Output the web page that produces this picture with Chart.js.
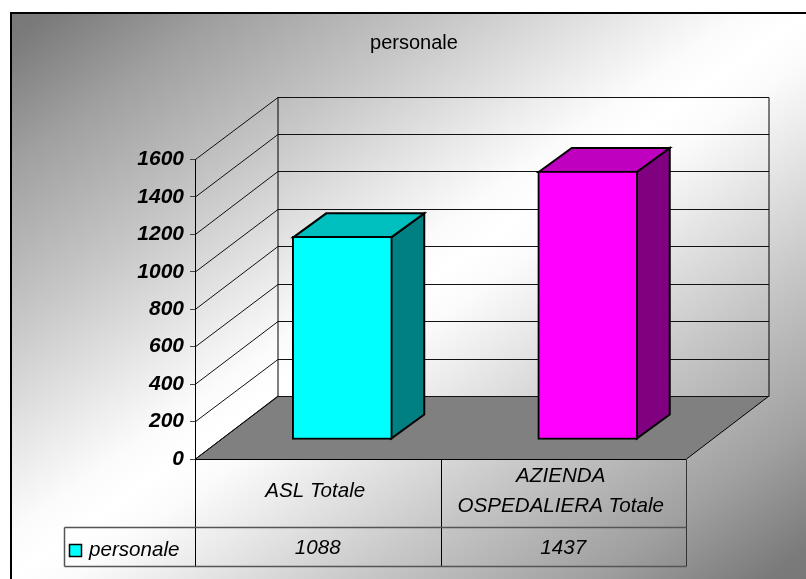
<!DOCTYPE html>
<html>
<head>
<meta charset="utf-8">
<style>
html,body{margin:0;padding:0;background:#fff;overflow:hidden;width:806px;height:579px}
canvas{display:block;position:absolute;left:0;top:0}
</style>
<script src="https://cdn.jsdelivr.net/npm/chart.js@4"></script>
</head>
<body>
<canvas id="c" width="828" height="579"></canvas>
<script>
const chartTitle = 'personale';
const seriesName = 'personale';
const categories = [['ASL Totale'], ['AZIENDA', 'OSPEDALIERA Totale']];
const values = [1088, 1437];
const frontColors = ['#00FFFF', '#FF00FF'];
const sideColors = ['#008080', '#800080'];
const topColors = ['#00BFBF', '#BF00BF'];
const FONT = '"Liberation Sans", Arial, sans-serif';

// Oblique projection of the 3D box
const WALL_DX = 82.5, WALL_DY = 63;
const BAR_SHIFT_X = 24.5, BAR_SHIFT_Y = 19;
const BAR_DX = 33, BAR_DY = 24;

const snap = v => Math.round(v) + 0.5;
function line(ctx, pts, color, w) {
  ctx.beginPath();
  pts.forEach((p, i) => i ? ctx.lineTo(p[0], p[1]) : ctx.moveTo(p[0], p[1]));
  ctx.strokeStyle = color; ctx.lineWidth = w; ctx.stroke();
}
function poly(ctx, pts, fill, stroke, w) {
  ctx.beginPath();
  pts.forEach((p, i) => i ? ctx.lineTo(p[0], p[1]) : ctx.moveTo(p[0], p[1]));
  ctx.closePath();
  ctx.fillStyle = fill; ctx.fill();
  if (stroke) { ctx.strokeStyle = stroke; ctx.lineWidth = w; ctx.lineJoin = 'miter'; ctx.stroke(); }
}

const gradStops = [
  [0, '#787878'], [0.025, '#7A7A7A'], [0.135, '#A0A0A0'], [0.275, '#C6C6C6'],
  [0.405, '#ECECEC'], [0.46, '#FBFBFB'], [0.5, '#FFFFFF'], [0.54, '#FBFBFB'],
  [0.595, '#ECECEC'], [0.725, '#C6C6C6'], [0.865, '#A0A0A0'], [0.975, '#7A7A7A'], [1, '#787878']
];

const frame3d = {
  id: 'frame3d',
  beforeDraw(chart) {
    const ctx = chart.ctx;
    ctx.save();
    ctx.fillStyle = '#fff';
    ctx.fillRect(0, 0, chart.width, chart.height);
    const g = ctx.createLinearGradient(141, -80, 675, 672);
    gradStops.forEach(s => g.addColorStop(s[0], s[1]));
    ctx.fillStyle = g;
    ctx.fillRect(10, 13, chart.width - 10, chart.height - 13);
    ctx.fillStyle = '#000';
    ctx.fillRect(10, 12, chart.width - 10, 2);
    ctx.fillRect(10, 12, 2, chart.height - 12);
    ctx.restore();
  },
  beforeDatasetsDraw(chart) {
    const ctx = chart.ctx, y = chart.scales.y, a = chart.chartArea;
    const L = a.left + 0.5, R = a.right + 0.5, B = y.getPixelForValue(0);
    ctx.save();
    // floor
    poly(ctx, [[L, B], [L + WALL_DX, B - WALL_DY], [R + WALL_DX, B - WALL_DY], [R, B]], '#808080', null);
    line(ctx, [[L, B], [L + WALL_DX, B - WALL_DY]], '#000', 1);
    line(ctx, [[R, B], [R + WALL_DX, B - WALL_DY]], '#000', 1);
    // gridlines across side wall and back wall
    y.ticks.forEach(t => {
      const py = y.getPixelForValue(t.value);
      const by = snap(py - WALL_DY);
      line(ctx, [[L, py], [L + WALL_DX, by], [R + WALL_DX, by]], '#111', 1);
    });
    // wall verticals
    const topBack = snap(y.getPixelForValue(y.max) - WALL_DY), botBack = snap(B - WALL_DY);
    line(ctx, [[L + WALL_DX, topBack], [L + WALL_DX, botBack]], '#000', 1);
    line(ctx, [[R + WALL_DX, topBack], [R + WALL_DX, botBack]], '#000', 1);
    ctx.restore();
    // bars: native rectangles are shifted onto the middle of the floor
    ctx.save();
    ctx.translate(BAR_SHIFT_X, -BAR_SHIFT_Y);
    chart.getDatasetMeta(0).data.forEach((bar, i) => {
      const x0 = bar.x - bar.width / 2 + 1, x1 = bar.x + bar.width / 2 - 1;
      const yt = bar.y + 1, yb = bar.base - 1;
      poly(ctx, [[x1, yt], [x1 + BAR_DX, yt - BAR_DY], [x1 + BAR_DX, yb - BAR_DY], [x1, yb]], sideColors[i], '#000', 2);
      poly(ctx, [[x0, yt], [x0 + BAR_DX, yt - BAR_DY], [x1 + BAR_DX, yt - BAR_DY], [x1, yt]], topColors[i], '#000', 2);
    });
  },
  afterDatasetsDraw(chart) {
    chart.ctx.restore();
    const ctx = chart.ctx, x = chart.scales.x, a = chart.chartArea;
    const top = a.bottom + 0.5, row = 527.5, bot = 566.5, legendL = 64.5;
    const L = a.left + 0.5, R = a.right + 0.5, mid = snap((x.getPixelForValue(0) + x.getPixelForValue(1)) / 2);
    ctx.save();
    line(ctx, [[L, top], [R, top]], '#000', 1);
    line(ctx, [[L, top], [L, bot]], '#000', 1);
    line(ctx, [[mid, top], [mid, bot]], '#000', 1);
    line(ctx, [[R, top], [R, bot]], '#333', 1);
    line(ctx, [[legendL, row], [R, row]], '#555', 1.5);
    line(ctx, [[legendL, bot], [R, bot]], '#555', 1.5);
    line(ctx, [[legendL, row], [legendL, bot]], '#555', 1.5);
    // legend key
    ctx.fillStyle = frontColors[0];
    ctx.strokeStyle = '#000'; ctx.lineWidth = 1.5;
    ctx.fillRect(69.5, 544.5, 12, 12); ctx.strokeRect(69.5, 544.5, 12, 12);
    // table text
    ctx.fillStyle = '#000';
    ctx.font = 'italic 20.6px ' + FONT;
    ctx.textBaseline = 'middle';
    ctx.textAlign = 'left';
    ctx.fillText(seriesName, 89, 550);
    ctx.textAlign = 'center';
    categories.forEach((lines, i) => {
      const cx = x.getPixelForValue(i);
      lines.forEach((s, j) => {
        ctx.fillText(s, cx - 2.5, 491 + (j - (lines.length - 1) / 2) * 30);
      });
      ctx.fillText(String(values[i]), cx, 548);
    });
    ctx.restore();
  }
};

new Chart(document.getElementById('c'), {
  type: 'bar',
  data: {
    labels: categories,
    datasets: [{
      label: seriesName,
      data: values,
      backgroundColor: frontColors,
      borderColor: '#000',
      borderWidth: 2,
      borderSkipped: false,
      barThickness: 100
    }]
  },
  plugins: [frame3d],
  options: {
    responsive: false,
    animation: false,
    devicePixelRatio: 1,
    layout: { padding: 0 },
    plugins: {
      legend: { display: false },
      tooltip: { enabled: false },
      title: {
        display: true,
        text: chartTitle,
        color: '#000',
        font: { family: FONT, size: 20, weight: 'normal' },
        padding: { top: 31, bottom: 104.5 }
      }
    },
    scales: {
      x: {
        afterFit(s) { s.height = 120; },
        grid: { display: false },
        border: { display: false },
        ticks: { display: false }
      },
      y: {
        min: 0, max: 1600,
        afterFit(s) { s.width = 195; },
        grid: { drawOnChartArea: false, drawTicks: true, tickLength: 5, color: '#444', lineWidth: 1 },
        border: { display: true, color: '#000', width: 1 },
        ticks: {
          stepSize: 200,
          padding: 6,
          color: '#000',
          callback: v => String(v),
          font: { family: FONT, size: 21, weight: 'bold', style: 'italic' }
        }
      },
      // empty right-hand strip: keeps the title centred on the whole frame
      spacer: {
        position: 'right',
        min: 0, max: 1,
        afterFit(s) { s.width = 142; },
        grid: { display: false },
        border: { display: false },
        ticks: { display: false }
      }
    }
  }
});
</script>
</body>
</html>
